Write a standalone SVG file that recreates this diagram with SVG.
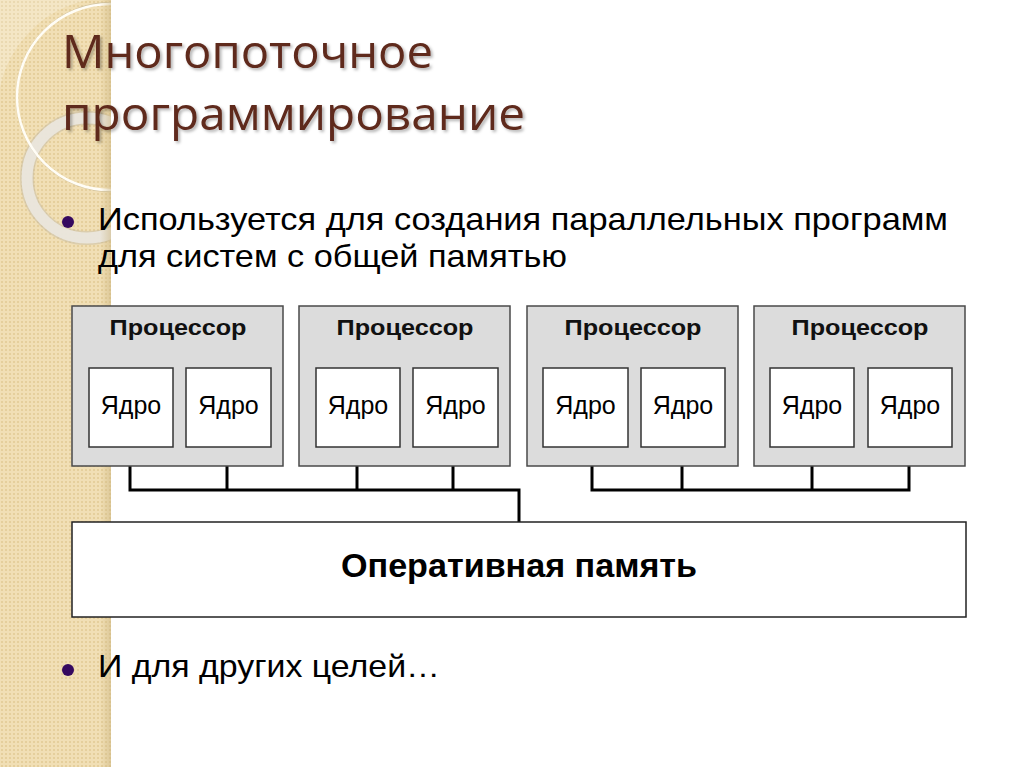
<svg xmlns="http://www.w3.org/2000/svg" width="1024" height="767" viewBox="0 0 1024 767">
  <defs>
    <pattern id="dots" width="4" height="4" patternUnits="userSpaceOnUse">
      <rect width="4" height="4" fill="#f1dfb5"/>
      <circle cx="2" cy="2" r="1" fill="#e2ca94"/>
    </pattern>
    <linearGradient id="edge" x1="0" y1="0" x2="1" y2="0">
      <stop offset="0" stop-color="#c9b27c" stop-opacity="0"/>
      <stop offset="1" stop-color="#c9b27c" stop-opacity="0.5"/>
    </linearGradient>
    <clipPath id="bandClip">
      <rect x="0" y="0" width="111" height="767"/>
    </clipPath>
    <filter id="shadow" x="-5%" y="-20%" width="110%" height="150%">
      <feDropShadow dx="2" dy="2" stdDeviation="1.5" flood-color="#000" flood-opacity="0.3"/>
    </filter>
    <style>
      .title { font-family: "Open Sans", "Noto Sans", sans-serif; font-size: 45px; fill: #5e291c; }
      .body { font-family: "Liberation Sans", Arial, sans-serif; font-size: 32px; fill: #000; }
      .bullet { fill: #35095f; }
      .proc { fill: #dcdcdc; stroke: #4a4a4a; stroke-width: 1.5; }
      .core { fill: #ffffff; stroke: #333333; stroke-width: 1.5; }
      .plabel { font-family: "Liberation Sans", Arial, sans-serif; font-weight: bold; font-size: 22px; fill: #111; text-anchor: middle; }
      .clabel { font-family: "Liberation Sans", Arial, sans-serif; font-size: 25px; fill: #000; text-anchor: middle; }
      .mem { fill: #ffffff; stroke: #222222; stroke-width: 1.5; }
      .mlabel { font-family: "Liberation Sans", Arial, sans-serif; font-weight: bold; font-size: 34px; fill: #000; text-anchor: middle; }
      .wire { fill: none; stroke: #000; stroke-width: 3; stroke-linejoin: miter; }
    </style>
  </defs>

  <rect width="1024" height="767" fill="#ffffff"/>

  <!-- decorative left band -->
  <g id="band">
    <rect x="0" y="0" width="111" height="767" fill="url(#dots)"/>
    <g clip-path="url(#bandClip)">
      <path d="M0 0 L0 88 A112 112 0 0 1 88 0 Z" fill="#ffffff" opacity="0.22"/>
      <circle cx="87" cy="178" r="60" fill="none" stroke="#c8bda5" stroke-width="14" opacity="0.55"/>
      <circle cx="87" cy="178" r="60" fill="none" stroke="#ebe8e0" stroke-width="11" opacity="0.9"/>
      <circle cx="111" cy="97" r="94.5" fill="none" stroke="#cdbf9d" stroke-width="1.5" opacity="0.8"/>
      <circle cx="110" cy="97" r="93" fill="none" stroke="#fffdf6" stroke-width="2.5"/>
    </g>
    <rect x="100" y="0" width="11" height="767" fill="url(#edge)"/>
  </g>

  <!-- title -->
  <g id="title" filter="url(#shadow)">
    <text class="title" x="62" y="68" textLength="371" lengthAdjust="spacingAndGlyphs">Многопоточное</text>
    <text class="title" x="62" y="130" textLength="463" lengthAdjust="spacingAndGlyphs">программирование</text>
  </g>

  <!-- bullets -->
  <g id="bullet1">
    <circle class="bullet" cx="68" cy="222" r="6"/>
    <text class="body" x="98" y="230" textLength="850" lengthAdjust="spacingAndGlyphs">Используется для создания параллельных программ</text>
    <text class="body" x="98" y="267" textLength="469" lengthAdjust="spacingAndGlyphs">для систем с общей памятью</text>
  </g>
  <g id="bullet2">
    <circle class="bullet" cx="68" cy="670" r="6"/>
    <text class="body" x="98" y="677" textLength="342" lengthAdjust="spacingAndGlyphs">И для других целей…</text>
  </g>

  <!-- connectors -->
  <g id="connectors">
    <path class="wire" d="M130 447 V490 H519 V522"/>
    <path class="wire" d="M227 447 V490"/>
    <path class="wire" d="M357 447 V490"/>
    <path class="wire" d="M453 447 V490"/>
    <path class="wire" d="M592 447 V490 H909 V447"/>
    <path class="wire" d="M682 447 V490"/>
    <path class="wire" d="M812 447 V490"/>
  </g>

  <!-- processors -->
  <g id="proc1">
    <rect class="proc" x="72" y="306" width="211" height="160"/>
    <text class="plabel" x="178" y="335" textLength="137" lengthAdjust="spacingAndGlyphs">Процессор</text>
  </g>
  <g id="proc2">
    <rect class="proc" x="299" y="306" width="211" height="160"/>
    <text class="plabel" x="405" y="335" textLength="137" lengthAdjust="spacingAndGlyphs">Процессор</text>
  </g>
  <g id="proc3">
    <rect class="proc" x="527" y="306" width="211" height="160"/>
    <text class="plabel" x="633" y="335" textLength="137" lengthAdjust="spacingAndGlyphs">Процессор</text>
  </g>
  <g id="proc4">
    <rect class="proc" x="754" y="306" width="211" height="160"/>
    <text class="plabel" x="860" y="335" textLength="137" lengthAdjust="spacingAndGlyphs">Процессор</text>
  </g>

  <!-- cores -->
  <g id="core1a"><rect class="core" x="89" y="368" width="84" height="79"/><text class="clabel" x="131" y="414">Ядро</text></g>
  <g id="core1b"><rect class="core" x="186" y="368" width="85" height="79"/><text class="clabel" x="228.5" y="414">Ядро</text></g>
  <g id="core2a"><rect class="core" x="316" y="368" width="84" height="79"/><text class="clabel" x="358" y="414">Ядро</text></g>
  <g id="core2b"><rect class="core" x="413" y="368" width="85" height="79"/><text class="clabel" x="455.5" y="414">Ядро</text></g>
  <g id="core3a"><rect class="core" x="543" y="368" width="85" height="79"/><text class="clabel" x="585.5" y="414">Ядро</text></g>
  <g id="core3b"><rect class="core" x="641" y="368" width="84" height="79"/><text class="clabel" x="683" y="414">Ядро</text></g>
  <g id="core4a"><rect class="core" x="770" y="368" width="84" height="79"/><text class="clabel" x="812" y="414">Ядро</text></g>
  <g id="core4b"><rect class="core" x="868" y="368" width="84" height="79"/><text class="clabel" x="910" y="414">Ядро</text></g>

  <!-- memory -->
  <g id="memory">
    <rect class="mem" x="72" y="522" width="894" height="95"/>
    <text class="mlabel" x="519" y="577" textLength="356" lengthAdjust="spacingAndGlyphs">Оперативная память</text>
  </g>
</svg>
